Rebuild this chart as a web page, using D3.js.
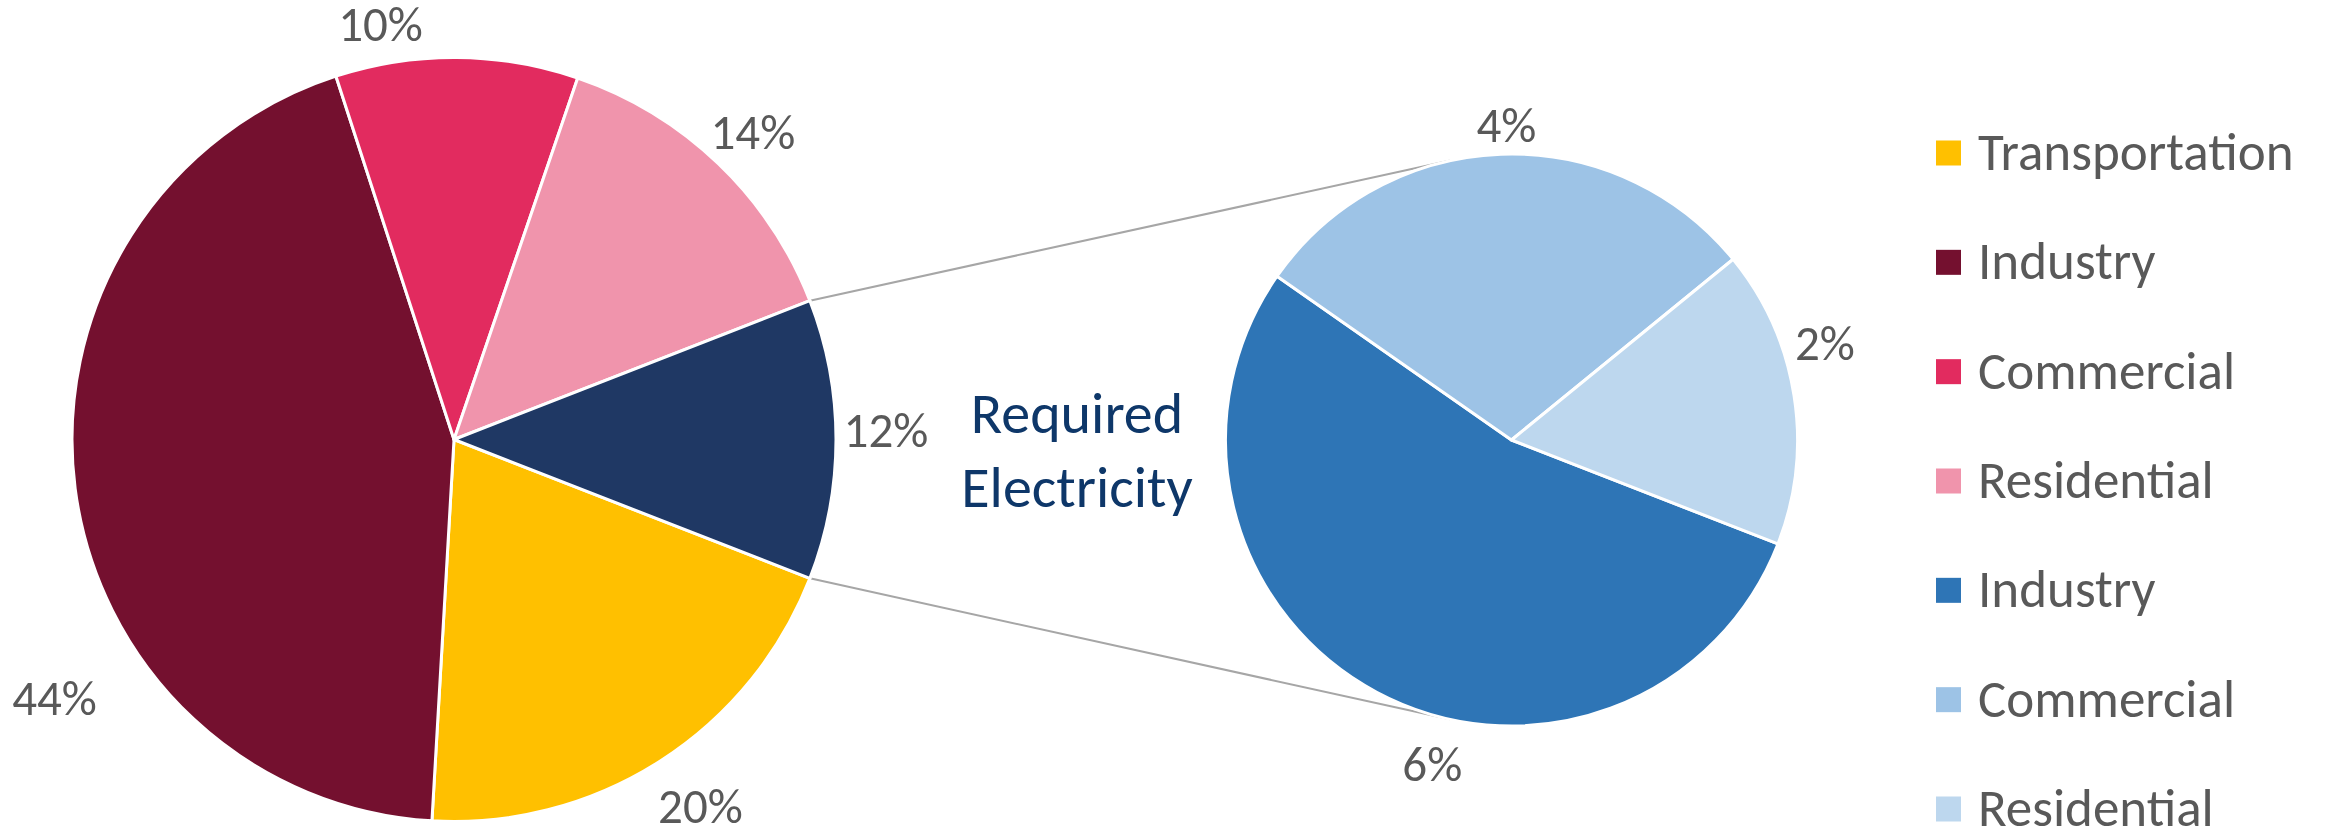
<!DOCTYPE html>
<html>
<head>
<meta charset="utf-8">
<script src="https://cdn.jsdelivr.net/npm/d3@7"></script>
<style>
  html, body { margin: 0; padding: 0; background: #ffffff; }
  svg { display: block; }
  text { font-family: Calibri, Carlito, Lato, "Open Sans", sans-serif; }
</style>
</head>
<body>
<svg id="chart" width="2326" height="828"></svg>
<script>
// Energy demand shares (%), split by sector
const directCategories = ["Transportation", "Industry", "Commercial", "Residential"];
const directValues = [20.1, 44.3, 10.3, 13.9];
const directColors = ["#FFC000", "#74102F", "#E22B5F", "#F094AC"];

// Required electricity, broken out by sector
const electricityCategories = ["Industry", "Commercial", "Residential"];
const electricityValues = [6.4, 3.5, 2.0];
const electricityColors = ["#2E75B6", "#9DC3E6", "#BDD7EE"];
const electricityLabel = ["Required", "Electricity"];
const electricityColor = "#1F3864";

// Layout
const W = 2326, H = 828;
const mainC = [454, 439.5], mainR = 382;
const subC = [1511.5, 440], subR = 286;
const textGray = "#595959";
const labelSize = 49, legendSize = 53, captionSize = 58;
const fmt = v => Math.round(v) + "%";

// Data-label placement: angle shift (deg) and distance beyond the rim
const mainLabelNudge = [[-1.2, 60], [-25.6, 94], [-10.5, 39], [0.5, 46], [-1.1, 50]];
const subLabelNudge = [[-14.4, 48], [1.2, 28], [-8.2, 42]];

const svg = d3.select("#chart");

const electricityTotal = d3.sum(electricityValues);
const mainData = directCategories.map((c, i) => ({ name: c, value: directValues[i], color: directColors[i] }))
  .concat([{ name: "Electricity", value: electricityTotal, color: electricityColor }]);
const subData = electricityCategories.map((c, i) => ({ name: c, value: electricityValues[i], color: electricityColors[i] }));

const total = d3.sum(mainData, d => d.value);
// Rotate so the electricity slice is centred on the right-hand side
const a0 = Math.PI / 2 + Math.PI * electricityTotal / total;

const pie = d3.pie().sort(null).value(d => d.value).startAngle(a0).endAngle(a0 + 2 * Math.PI);
const mainArcs = pie(mainData);
const subArcs = pie(subData);

const polar = (c, r, a) => [c[0] + r * Math.sin(a), c[1] - r * Math.cos(a)];

// Connector lines from the electricity slice to the tangent points of the breakout pie
const elec = mainArcs[mainArcs.length - 1];
const p1 = polar(mainC, mainR, elec.startAngle);
const p2 = polar(mainC, mainR, elec.endAngle);
function tangent(p, sign) {
  const dx = p[0] - subC[0], dy = p[1] - subC[1];
  const d = Math.hypot(dx, dy);
  const base = Math.atan2(dy, dx);
  const a = base + sign * Math.acos(subR / d);
  return [subC[0] + subR * Math.cos(a), subC[1] + subR * Math.sin(a)];
}
const t1 = tangent(p1, 1);
const t2 = tangent(p2, -1);
svg.append("g").selectAll("line").data([[p1, t1], [p2, t2]]).join("line")
  .attr("x1", d => d[0][0]).attr("y1", d => d[0][1])
  .attr("x2", d => d[1][0]).attr("y2", d => d[1][1])
  .attr("stroke", "#A6A6A6").attr("stroke-width", 2);

function drawPie(arcs, center, radius, nudges) {
  const arc = d3.arc().innerRadius(0).outerRadius(radius);
  const g = svg.append("g").attr("transform", `translate(${center[0]},${center[1]})`);
  g.selectAll("path").data(arcs).join("path")
    .attr("d", arc)
    .attr("fill", d => d.data.color)
    .attr("stroke", "#ffffff")
    .attr("stroke-width", 3)
    .attr("stroke-linejoin", "round");
  const pos = (d, i) => polar(center, radius + nudges[i][1],
    (d.startAngle + d.endAngle) / 2 + nudges[i][0] * Math.PI / 180);
  svg.append("g").selectAll("text").data(arcs).join("text")
    .attr("x", (d, i) => pos(d, i)[0])
    .attr("y", (d, i) => pos(d, i)[1])
    .attr("dy", "0.33em")
    .attr("text-anchor", "middle")
    .attr("font-size", labelSize)
    .attr("fill", textGray)
    .text(d => fmt(d.data.value));
}

drawPie(mainArcs, mainC, mainR, mainLabelNudge);
drawPie(subArcs, subC, subR, subLabelNudge);

// Caption between the two pies
svg.append("text")
  .attr("x", 1077).attr("y", 433)
  .attr("text-anchor", "middle")
  .attr("font-size", captionSize)
  .attr("fill", "#0E3769")
  .selectAll("tspan").data(electricityLabel).join("tspan")
  .attr("x", 1077)
  .attr("dy", (d, i) => i === 0 ? 0 : 74)
  .text(d => d);

// Legend
const legendItems = directCategories.map((c, i) => ({ name: c, color: directColors[i] }))
  .concat(electricityCategories.map((c, i) => ({ name: c, color: electricityColors[i] })));
const ly = d3.scaleLinear().domain([0, legendItems.length - 1]).range([153, 809]);
const legend = svg.append("g");
const li = legend.selectAll("g").data(legendItems).join("g")
  .attr("transform", (d, i) => `translate(1936,${ly(i)})`);
li.append("rect").attr("x", 0).attr("y", -12.5).attr("width", 25).attr("height", 25).attr("fill", d => d.color);
li.append("text").attr("x", 42).attr("y", 17).attr("font-size", legendSize).attr("fill", textGray).text(d => d.name);
</script>
</body>
</html>
